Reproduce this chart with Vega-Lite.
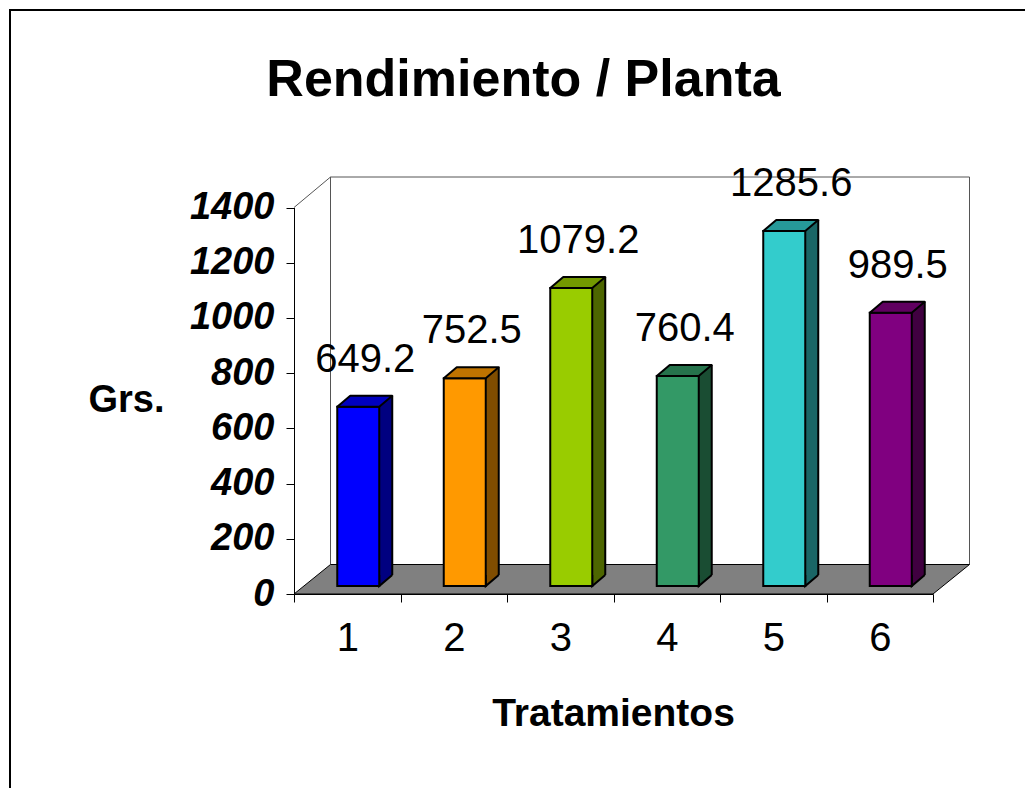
{
  "$schema": "https://vega.github.io/schema/vega-lite/v6.json",
  "width": 1015,
  "height": 778,
  "autosize": {"type": "none"},
  "padding": {"left": 10, "top": 10, "right": 0, "bottom": 0},
  "background": "white",
  "config": {
    "font": "Liberation Sans",
    "view": {"stroke": "black", "strokeWidth": 2, "strokeDash": [1015, 1793, 778]}
  },
  "title": {
    "text": "Rendimiento / Planta",
    "font": "Liberation Sans",
    "fontSize": 52,
    "fontWeight": "bold",
    "color": "black",
    "anchor": "middle",
    "frame": "group",
    "baseline": "alphabetic",
    "offset": 0,
    "dx": 6,
    "dy": 138
  },
  "data": {
    "values": [
      {"t": "1", "v": 649.2},
      {"t": "2", "v": 752.5},
      {"t": "3", "v": 1079.2},
      {"t": "4", "v": 760.4},
      {"t": "5", "v": 1285.6},
      {"t": "6", "v": 989.5}
    ]
  },
  "layer": [
    {
      "transform": [{"filter": "datum.t == '1'"}],
      "mark": {"type": "point", "shape": "M-53.25,0L-16.75,-30.5L622.25,-30.5L622.25,357M-16.75,-30.5L-16.75,357", "size": 4, "filled": false, "stroke": "#555555", "strokeWidth": 1, "opacity": 1},
      "encoding": {
        "x": {
          "datum": "1", "type": "nominal",
          "scale": {"type": "band", "domain": ["1", "2", "3", "4", "5", "6"], "range": [284, 923], "paddingInner": 0, "paddingOuter": 0},
          "axis": {
            "title": "Tratamientos", "titleFont": "Liberation Sans", "titleFontSize": 39, "titleFontWeight": "bold", "titleColor": "black",
            "titleX": 603, "titleY": 119, "titleAlign": "center", "titleBaseline": "middle",
            "labelFont": "Liberation Sans", "labelFontSize": 40, "labelColor": "black", "labelAngle": 0, "labelPadding": 16, "labelBaseline": "top",
            "tickBand": "extent", "tickSize": 8, "tickColor": "black", "tickWidth": 1, "domainColor": "black", "domainWidth": 1,
            "offset": -194, "grid": false
          }
        },
        "y": {
          "datum": 1400, "type": "quantitative",
          "scale": {"type": "linear", "domain": [0, 1400], "range": [584, 197.5], "nice": false, "zero": false},
          "axis": {
            "title": "Grs.", "titleFont": "Liberation Sans", "titleFontSize": 38, "titleFontWeight": "bold", "titleColor": "black",
            "titleAngle": 0, "titleX": -168, "titleY": 390, "titleAlign": "center", "titleBaseline": "middle",
            "values": [0, 200, 400, 600, 800, 1000, 1200, 1400],
            "format": "d",
            "labelFont": "Liberation Sans", "labelFontSize": 38, "labelFontWeight": "bold", "labelFontStyle": "italic", "labelColor": "black", "labelPadding": 12,
            "tickSize": 8, "tickColor": "black", "tickWidth": 1, "domainColor": "black", "domainWidth": 1,
            "offset": -284, "grid": false
          }
        }
      }
    },
    {
      "transform": [{"filter": "datum.t == '1'"}],
      "mark": {"type": "point", "shape": "M-53.25,0L585.75,0L622.25,-29.5L-16.75,-29.5Z", "size": 4, "filled": true, "fill": "#808080", "stroke": "black", "strokeWidth": 1, "opacity": 1},
      "encoding": {
        "x": {"datum": "1", "type": "nominal"},
        "y": {"datum": 0, "type": "quantitative"}
      }
    },
    {
      "mark": {"type": "bar", "width": 13, "xOffset": 38.5, "yOffset": -19, "y2Offset": -19},
      "encoding": {
        "x": {"field": "t", "type": "nominal"},
        "y": {"field": "v", "type": "quantitative"},
        "y2": {"datum": 0},
        "fill": {"field": "t", "type": "nominal", "legend": null, "scale": {"domain": ["1", "2", "3", "4", "5", "6"], "range": ["#000080", "#804D00", "#4D6600", "#1A4D33", "#1A6666", "#400040"]}}
      }
    },
    {
      "mark": {"type": "point", "shape": "M13,-11L0,0L0,-11", "size": 4, "filled": true, "stroke": "black", "strokeWidth": 2, "opacity": 1, "xOffset": 32, "yOffset": -8},
      "encoding": {
        "x": {"field": "t", "type": "nominal"},
        "y": {"datum": 0, "type": "quantitative"},
        "fill": {"field": "t", "type": "nominal", "legend": null, "scale": {"domain": ["1", "2", "3", "4", "5", "6"], "range": ["#000080", "#804D00", "#4D6600", "#1A4D33", "#1A6666", "#400040"]}}
      }
    },
    {
      "mark": {"type": "rule", "color": "black", "strokeWidth": 2, "xOffset": 45, "yOffset": -19, "y2Offset": -19},
      "encoding": {
        "x": {"field": "t", "type": "nominal"},
        "y": {"field": "v", "type": "quantitative"},
        "y2": {"datum": 0}
      }
    },
    {
      "mark": {"type": "bar", "width": 42, "xOffset": 11, "yOffset": -8, "y2Offset": -8, "stroke": "black", "strokeWidth": 2},
      "encoding": {
        "x": {"field": "t", "type": "nominal"},
        "y": {"field": "v", "type": "quantitative"},
        "y2": {"datum": 0},
        "fill": {"field": "t", "type": "nominal", "legend": null, "scale": {"domain": ["1", "2", "3", "4", "5", "6"], "range": ["#0000FF", "#FF9900", "#99CC00", "#339966", "#33CCCC", "#800080"]}}
      }
    },
    {
      "mark": {"type": "point", "shape": "M0,0L42,0L55,-11L13,-11Z", "size": 4, "filled": true, "stroke": "black", "strokeWidth": 2, "strokeJoin": "round", "opacity": 1, "xOffset": -10, "yOffset": -8},
      "encoding": {
        "x": {"field": "t", "type": "nominal"},
        "y": {"field": "v", "type": "quantitative"},
        "fill": {"field": "t", "type": "nominal", "legend": null, "scale": {"domain": ["1", "2", "3", "4", "5", "6"], "range": ["#0000BF", "#BF7300", "#739900", "#26734C", "#269999", "#600060"]}}
      }
    },
    {
      "mark": {"type": "text", "font": "Liberation Sans", "fontSize": 40, "color": "black", "align": "center", "baseline": "alphabetic", "xOffset": 18, "yOffset": -43},
      "encoding": {
        "x": {"field": "t", "type": "nominal"},
        "y": {"field": "v", "type": "quantitative"},
        "text": {"field": "v", "type": "quantitative", "format": ".1f"}
      }
    }
  ],
  "resolve": {"scale": {"fill": "independent"}}
}
